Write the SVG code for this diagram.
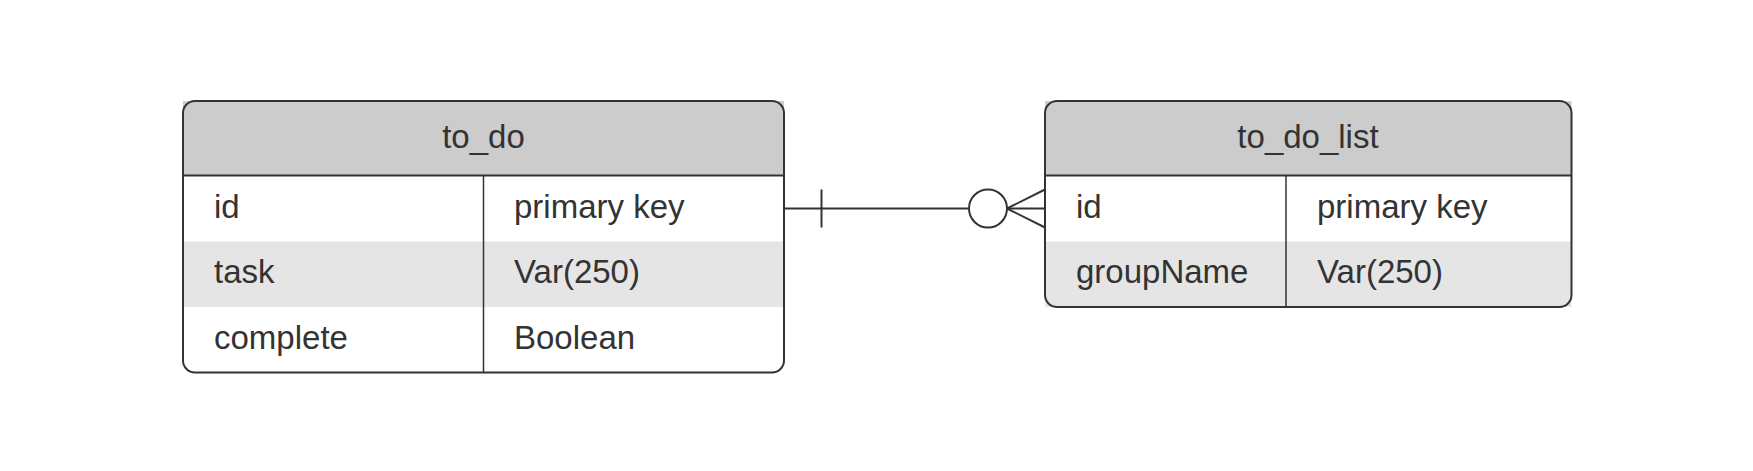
<svg xmlns="http://www.w3.org/2000/svg" width="1753" height="471" viewBox="0 0 1753 471">
<style>
.hdr{fill:#cccccc}
.alt{fill:#e5e5e5}
.wht{fill:#ffffff}
.border{fill:none;stroke:#333333;stroke-width:2}
.div{stroke:#333333;stroke-width:1.5;fill:none}
.t{font-family:"Liberation Sans",Arial,sans-serif;font-size:33px;fill:#333333}
.c{text-anchor:middle}
.conn{stroke:#333333;stroke-width:2;fill:none}
</style>
<rect width="1753" height="471" fill="#ffffff"/>
<g id="to_do">
<rect class="hdr" x="183" y="101" width="601" height="74.5"/>
<rect class="wht" x="183" y="175.5" width="601" height="66"/>
<rect class="alt" x="183" y="241.5" width="601" height="65.5"/>
<path class="wht" d="M183 307 H784 V360.5 Q784 372.5 772 372.5 H195 Q183 372.5 183 360.5 Z"/>
<rect class="border" x="183" y="101" width="601" height="271.5" rx="12" ry="12"/>
<line class="div" x1="183" y1="175.5" x2="784" y2="175.5" style="stroke-width:2"/>
<line class="div" x1="483.5" y1="175.5" x2="483.5" y2="372.5"/>
<text class="t c" x="483.5" y="147.5">to_do</text>
<text class="t" x="214" y="217.5">id</text>
<text class="t" x="514" y="217.5">primary key</text>
<text class="t" x="214" y="283">task</text>
<text class="t" x="514" y="283">Var(250)</text>
<text class="t" x="214" y="348.5">complete</text>
<text class="t" x="514" y="348.5">Boolean</text>
</g>
<g id="to_do_list">
<rect class="hdr" x="1045" y="101" width="526.5" height="74.5"/>
<rect class="wht" x="1045" y="175.5" width="526.5" height="66"/>
<rect class="alt" x="1045" y="241.5" width="526.5" height="65.5"/>
<rect class="border" x="1045" y="101" width="526.5" height="206" rx="12" ry="12"/>
<line class="div" x1="1045" y1="175.5" x2="1571.5" y2="175.5" style="stroke-width:2"/>
<line class="div" x1="1286" y1="175.5" x2="1286" y2="307"/>
<text class="t c" x="1308" y="147.5">to_do_list</text>
<text class="t" x="1076" y="217.5">id</text>
<text class="t" x="1317" y="217.5">primary key</text>
<text class="t" x="1076" y="283">groupName</text>
<text class="t" x="1317" y="283">Var(250)</text>
</g>
<g id="connectors">
<line class="conn" x1="784" y1="208.5" x2="969" y2="208.5"/>
<line class="conn" x1="821.5" y1="189.5" x2="821.5" y2="227.5"/>
<circle class="conn" cx="988" cy="208.5" r="19" style="fill:#ffffff"/>
<line class="conn" x1="1007" y1="208.5" x2="1045" y2="208.5"/>
<line class="conn" x1="1007" y1="208.5" x2="1045" y2="189.5"/>
<line class="conn" x1="1007" y1="208.5" x2="1045" y2="227.5"/>
</g>
</svg>
